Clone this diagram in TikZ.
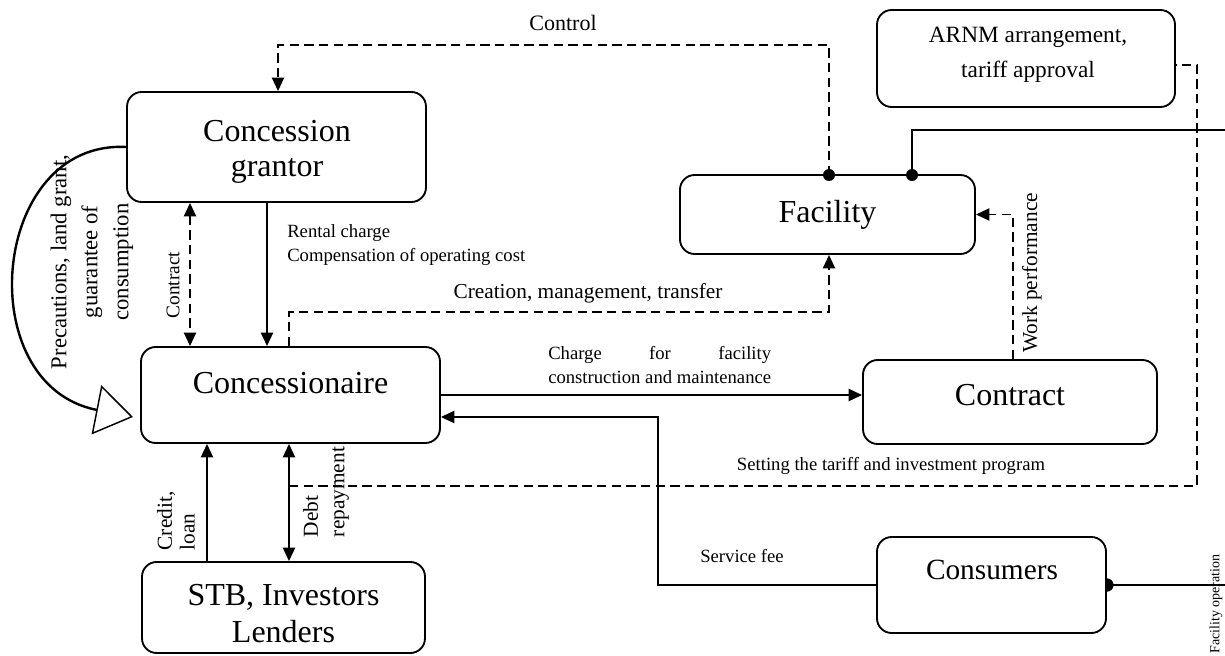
\documentclass[tikz,border=0pt]{standalone}
\usepackage{fontspec}
\usepackage{calc}
\setmainfont{Liberation Serif}
\usetikzlibrary{arrows.meta,calc}
\begin{document}
\begin{tikzpicture}[x=0.75pt,y=-0.75pt,
  box/.style={draw, line width=1.4pt, rounded corners=11pt, inner sep=0pt, fill=white},
  ln/.style={line width=1.6pt},
  dsh/.style={line width=1.4pt, dash pattern=on 7pt off 4pt},
  tipe/.style={-{Triangle[length=10pt,width=9pt]}},
  tipb/.style={{Triangle[length=10pt,width=9pt]}-{Triangle[length=10pt,width=9pt]}},
  bigtxt/.style={inner sep=0pt, font=\fontsize{24}{26.25}\selectfont, align=center},
  midtxt/.style={inner sep=0pt, font=\fontsize{16.5}{20}\selectfont},
  smalltxt/.style={inner sep=0pt, font=\fontsize{14}{18}\selectfont}
]
\useasboundingbox (0,0) rectangle (1225,656);

% boxes
\node[box, minimum width=224.25pt, minimum height=82.5pt] (grantor) at (276.5,147) {};
\node[bigtxt] (grantorT) at (277,152) {Concession\\grantor};
\node[box, minimum width=224.25pt, minimum height=72pt] (conc) at (290.5,395) {};
\node[bigtxt] (concT) at (290.5,383) {Concessionaire};
\node[box, minimum width=212.25pt, minimum height=68.25pt] (stb) at (283.5,607.5) {};
\node[bigtxt, font=\fontsize{24}{27.75}\selectfont] (stbT) at (283.5,614) {STB, Investors\\Lenders};
\node[box, minimum width=221.25pt, minimum height=59.25pt, bigtxt] (fac) at (827.5,214.5) {Facility};
\node[box, minimum width=223.5pt, minimum height=72.75pt] (arnm) at (1026,58.5) {};
\node[inner sep=0pt, align=center, font=\fontsize{17.5}{26.25}\selectfont] (arnmT) at (1028,55) {ARNM arrangement,\\tariff approval};
\node[box, minimum width=220.5pt, minimum height=63pt] (contr) at (1010,402) {};
\node[bigtxt] (contrT) at (1010,395) {Contract};
\node[box, minimum width=171.75pt, minimum height=72pt] (cons) at (991.5,585) {};
\node[bigtxt, font=\fontsize{22}{26}\selectfont] (consT) at (992,570) {Consumers};

% helper coordinates
\coordinate (fA) at (829,175);
\coordinate (fB) at (912,175);
\coordinate (ctl) at (278,45);
\coordinate (cr) at (289,312);
\coordinate (xR) at (267,0);
\coordinate (xC) at (190,0);
\coordinate (xCr) at (207,0);
\coordinate (xD) at (289,0);
\coordinate (stA) at (289,486);
\coordinate (stB) at (1197,486);
\coordinate (arnmC) at (1175,65);
\coordinate (fo) at (1229,130);
\coordinate (sf) at (658,417);
\coordinate (xW) at (1013,0);
\coordinate (precEnd) at (133,417);

% connectors
\draw[dsh, tipe] (fA) |- (ctl) -- (ctl |- grantor.north);
\draw[ln] (fB) |- (fo) |- (cons.east);
\draw[dsh, tipe] (cr |- conc.north) -- (cr) -| (fA |- fac.south);
\draw[ln, tipe] (grantor.south -| xR) -- (conc.north -| xR);
\draw[dsh, tipb] (grantor.south -| xC) -- (conc.north -| xC);
\draw[ln, tipe] (stb.north -| xCr) -- (conc.south -| xCr);
\draw[ln, tipb] (stb.north -| xD) -- (conc.south -| xD);
\draw[dsh] (stA) -- (stB) |- (arnmC);
\draw[dsh, tipe] (contr.north -| xW) |- (fac.east);
\draw[ln, tipe] (conc.east) -- (conc.east -| contr.west);
\draw[ln, tipe] (cons.west) -| (sf) -- (sf -| conc.east);
\draw[line width=1.8pt, -{Triangle[open, length=28pt, width=37.5pt, line width=1.1pt]}]
  (grantor.west) .. controls (-10,140) and (-30,385) .. (precEnd);

% dots
\fill (fA) circle (4.5pt);
\fill (fB) circle (4.5pt);
\fill (cons.east) ++(0pt,5pt) arc[start angle=90, end angle=-90, radius=5pt] -- cycle;

% labels
\node[midtxt] (lControl) at (563,23) {Control};
\node[smalltxt, anchor=west, align=left] (lRental) at (287,245) {Rental charge\\Compensation of operating cost};
\node[inner sep=0pt, font=\fontsize{16}{20}\selectfont] (lCreation) at (588,293) {Creation, management, transfer};
\node[smalltxt, anchor=west] (lCharge) at (548,365) {\parbox{\widthof{construction and maintenance}}{Charge\hfill for\hfill facility\\construction and maintenance}};
\node[smalltxt] (lSetting) at (891,466) {Setting the tariff and investment program};
\node[smalltxt] (lService) at (742,556) {Service fee};
\node[inner sep=0pt, rotate=90, font=\fontsize{14.5}{18}\selectfont] (lContract) at (173,285) {Contract};
\node[inner sep=0pt, rotate=90, align=center, font=\fontsize{17}{23.25}\selectfont] (lPrec) at (92,262) {Precautions, land grant,\\guarantee of\\consumption};
\node[inner sep=0pt, rotate=90, align=left, font=\fontsize{16}{17}\selectfont] (lCredit) at (176,521) {Credit,\\loan};
\node[inner sep=0pt, rotate=90, align=left, font=\fontsize{16}{20}\selectfont] (lDebt) at (326,492) {Debt\\repayment};
\node[inner sep=0pt, rotate=90, font=\fontsize{16}{20}\selectfont] (lWork) at (1032,273) {Work performance};
\node[inner sep=0pt, rotate=90, font=\fontsize{10.5}{12}\selectfont] (lFacOp) at (1216,604) {Facility operation};
\end{tikzpicture}
\end{document}
